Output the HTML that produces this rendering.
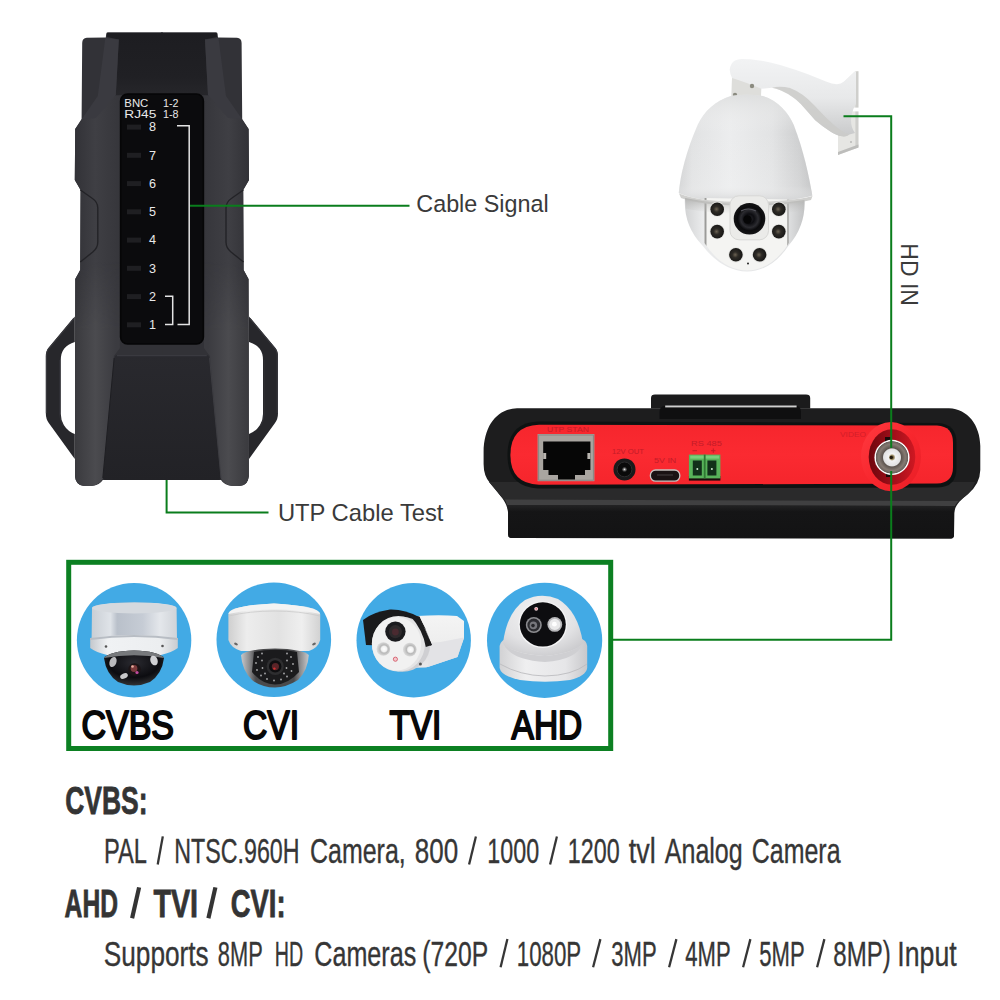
<!DOCTYPE html>
<html>
<head>
<meta charset="utf-8">
<title>CCTV Tester</title>
<style>
html,body{margin:0;padding:0;background:#fff;}
body{width:1000px;height:1000px;overflow:hidden;font-family:"Liberation Sans",sans-serif;}
svg{display:block;position:absolute;left:0;top:0;}
text{font-family:"Liberation Sans",sans-serif;}
</style>
</head>
<body>
<svg width="1000" height="1000" viewBox="0 0 1000 1000">
<defs>
<linearGradient id="gDome" x1="0" y1="0" x2="1" y2="0">
 <stop offset="0" stop-color="#cfd0d1"/>
 <stop offset="0.1" stop-color="#e1e2e3"/>
 <stop offset="0.38" stop-color="#ecedee"/>
 <stop offset="0.7" stop-color="#e2e3e4"/>
 <stop offset="0.9" stop-color="#cecfd0"/>
 <stop offset="1" stop-color="#bcbdbe"/>
</linearGradient>
<linearGradient id="gDomeV" x1="0" y1="0" x2="0" y2="1">
 <stop offset="0" stop-color="#dcdddd" stop-opacity="0.8"/>
 <stop offset="0.35" stop-color="#f2f2f2" stop-opacity="0"/>
 <stop offset="0.85" stop-color="#f6f6f6" stop-opacity="0.2"/>
 <stop offset="1" stop-color="#d0d1d2" stop-opacity="0.9"/>
</linearGradient>
<linearGradient id="gArm" x1="0" y1="0" x2="0" y2="1">
 <stop offset="0" stop-color="#f2f3f4"/>
 <stop offset="0.5" stop-color="#e8e9ea"/>
 <stop offset="1" stop-color="#c8c9ca"/>
</linearGradient>
<linearGradient id="gBall" x1="0" y1="0" x2="1" y2="0">
 <stop offset="0" stop-color="#d2d3d4"/>
 <stop offset="0.15" stop-color="#eaebec"/>
 <stop offset="0.85" stop-color="#e2e3e4"/>
 <stop offset="1" stop-color="#c2c3c4"/>
</linearGradient>
<radialGradient id="gIR" cx="0.45" cy="0.5" r="0.6">
 <stop offset="0" stop-color="#6b6253"/>
 <stop offset="0.35" stop-color="#2e2b26"/>
 <stop offset="1" stop-color="#121212"/>
</radialGradient>
<radialGradient id="gLens" cx="0.5" cy="0.5" r="0.5">
 <stop offset="0" stop-color="#2a2a30"/>
 <stop offset="0.3" stop-color="#0c0c10"/>
 <stop offset="0.55" stop-color="#2b2b30"/>
 <stop offset="0.75" stop-color="#0a0a0c"/>
 <stop offset="1" stop-color="#131315"/>
</radialGradient>
<linearGradient id="gRed" x1="0" y1="0" x2="0" y2="1">
 <stop offset="0" stop-color="#f6262d"/>
 <stop offset="0.5" stop-color="#fb2a31"/>
 <stop offset="1" stop-color="#f5252c"/>
</linearGradient>
<linearGradient id="gBase" x1="0" y1="0" x2="0" y2="1">
 <stop offset="0" stop-color="#232324"/>
 <stop offset="0.2" stop-color="#151516"/>
 <stop offset="1" stop-color="#131314"/>
</linearGradient>
<radialGradient id="gBnc" cx="0.5" cy="0.5" r="0.5">
 <stop offset="0" stop-color="#2a2010"/>
 <stop offset="0.12" stop-color="#9a8a60"/>
 <stop offset="0.2" stop-color="#f2f2f2"/>
 <stop offset="0.48" stop-color="#e2e2e2"/>
 <stop offset="0.54" stop-color="#5e5650"/>
 <stop offset="0.75" stop-color="#857a72"/>
 <stop offset="0.9" stop-color="#6a625c"/>
 <stop offset="0.94" stop-color="#ffffff"/>
 <stop offset="1" stop-color="#f0f0f0"/>
</radialGradient>
<linearGradient id="gCyl1" x1="0" y1="0" x2="1" y2="0">
 <stop offset="0" stop-color="#c9ced4"/>
 <stop offset="0.22" stop-color="#dfe3e8"/>
 <stop offset="0.3" stop-color="#b9c0ca"/>
 <stop offset="0.6" stop-color="#c6ccd5"/>
 <stop offset="0.8" stop-color="#e4e7eb"/>
 <stop offset="1" stop-color="#cfd3d8"/>
</linearGradient>
<linearGradient id="gFl1" x1="0" y1="0" x2="1" y2="0">
 <stop offset="0" stop-color="#c4c8cd"/>
 <stop offset="0.2" stop-color="#f0f2f4"/>
 <stop offset="0.8" stop-color="#eceef0"/>
 <stop offset="1" stop-color="#c8ccd0"/>
</linearGradient>
<radialGradient id="gDk1" cx="0.5" cy="0.35" r="0.7">
 <stop offset="0" stop-color="#2a2a30"/>
 <stop offset="0.6" stop-color="#0c0c10"/>
 <stop offset="1" stop-color="#3a3a3c"/>
</radialGradient>
<linearGradient id="gCyl2" x1="0" y1="0" x2="1" y2="0">
 <stop offset="0" stop-color="#cfcfcf"/>
 <stop offset="0.2" stop-color="#ededed"/>
 <stop offset="0.55" stop-color="#e2e2e2"/>
 <stop offset="0.8" stop-color="#efefef"/>
 <stop offset="1" stop-color="#d2d2d2"/>
</linearGradient>
<linearGradient id="gDk2" x1="0" y1="0" x2="1" y2="0">
 <stop offset="0" stop-color="#c9c9cb"/>
 <stop offset="0.12" stop-color="#8e8e90"/>
 <stop offset="0.22" stop-color="#4a4a4c"/>
 <stop offset="0.78" stop-color="#4a4a4c"/>
 <stop offset="0.88" stop-color="#8e8e90"/>
 <stop offset="1" stop-color="#c9c9cb"/>
</linearGradient>
<linearGradient id="gBul" x1="0" y1="0" x2="0" y2="1">
 <stop offset="0" stop-color="#f4f4f4"/>
 <stop offset="0.5" stop-color="#eeeeee"/>
 <stop offset="0.55" stop-color="#dcdcde"/>
 <stop offset="1" stop-color="#e8e8ea"/>
</linearGradient>
<radialGradient id="gLed" cx="0.55" cy="0.5" r="0.5">
 <stop offset="0" stop-color="#ffffff"/>
 <stop offset="0.4" stop-color="#f2f2f2"/>
 <stop offset="0.6" stop-color="#b8b8b8"/>
 <stop offset="1" stop-color="#d8d8d8"/>
</radialGradient>
<radialGradient id="gEye" cx="0.45" cy="0.3" r="0.8">
 <stop offset="0" stop-color="#f3f3f4"/>
 <stop offset="0.6" stop-color="#e2e2e4"/>
 <stop offset="1" stop-color="#c6c6c9"/>
</radialGradient>
<linearGradient id="gEyeBase" x1="0" y1="0" x2="1" y2="0">
 <stop offset="0" stop-color="#d2d2d4"/>
 <stop offset="0.3" stop-color="#efeff0"/>
 <stop offset="0.75" stop-color="#e6e6e8"/>
 <stop offset="1" stop-color="#c8c8cb"/>
</linearGradient>
<linearGradient id="gSideR" x1="0" y1="0" x2="1" y2="0">
 <stop offset="0" stop-color="#36363b"/>
 <stop offset="0.55" stop-color="#3f3f44"/>
 <stop offset="1" stop-color="#323237"/>
</linearGradient>
<linearGradient id="gTopFace" x1="0" y1="0" x2="0" y2="1">
 <stop offset="0" stop-color="#1d1d21"/>
 <stop offset="0.7" stop-color="#202024"/>
 <stop offset="1" stop-color="#26262a"/>
</linearGradient>
<linearGradient id="gLowPanel" x1="0" y1="0" x2="0" y2="1">
 <stop offset="0" stop-color="#29292e"/>
 <stop offset="1" stop-color="#222226"/>
</linearGradient>
<linearGradient id="gBncHole" x1="0" y1="0" x2="1" y2="0">
 <stop offset="0" stop-color="#6e060d"/>
 <stop offset="0.45" stop-color="#9a0d18"/>
 <stop offset="1" stop-color="#cf1822"/>
</linearGradient>
<linearGradient id="gBncRing" x1="0" y1="0" x2="1" y2="1">
 <stop offset="0" stop-color="#ff3a40"/>
 <stop offset="0.5" stop-color="#f8272e"/>
 <stop offset="1" stop-color="#e81e26"/>
</linearGradient>
<linearGradient id="gRimSh" x1="0" y1="0" x2="0" y2="1">
 <stop offset="0" stop-color="#a8a8a6" stop-opacity="0.75"/>
 <stop offset="1" stop-color="#c8c8c6" stop-opacity="0"/>
</linearGradient>
<linearGradient id="gSideLow" gradientUnits="userSpaceOnUse" x1="208" y1="0" x2="249" y2="0">
 <stop offset="0" stop-color="#3b3b40"/>
 <stop offset="0.5" stop-color="#4b4b4f"/>
 <stop offset="1" stop-color="#3a3a3e"/>
</linearGradient>
<linearGradient id="gSideFade" gradientUnits="userSpaceOnUse" x1="0" y1="262" x2="0" y2="330">
 <stop offset="0" stop-color="#fff" stop-opacity="0"/>
 <stop offset="1" stop-color="#fff" stop-opacity="1"/>
</linearGradient>
<mask id="mSideLow" maskUnits="userSpaceOnUse" x="0" y="0" width="1000" height="1000">
 <rect x="0" y="240" width="400" height="260" fill="url(#gSideFade)"/>
</mask>
</defs>
<rect width="1000" height="1000" fill="#ffffff"/>
<!-- tester.svg -->
<g id="tester">
 <!-- side loops -->
 <g id="loopR">
  <path d="M249,316.5 L275,347.5 Q278,351 278,356 L278,413 Q278,419 275,423 L249,459 L249,434 Q256,431.5 260,425 Q263,420 263,414 L263,360 Q263,353 259.5,348.5 Q256,344 249,342 Z" fill="#27272b"/>
  <path d="M250,318.5 L275.5,349 Q277.3,351.5 277.3,356 L277.3,413" fill="none" stroke="#38383d" stroke-width="1.2"/>
  <path d="M264.2,360 L264.2,414 Q264,421 260.5,426" fill="none" stroke="#303035" stroke-width="1"/>
 </g>
 <use href="#loopR" transform="translate(323.8,0) scale(-1,1)"/>
 <!-- body silhouette -->
 <path id="bodyhalf" d="M160.9,32.2 L216,32.2 Q217.5,32.2 217.6,34 L218,37.6 L237,37.8 Q241.5,38 241.6,43 L242.2,119 L248.6,129 L249,180 L243.2,190 L243.6,270 L248.5,279 L248.7,476 Q248.2,485 240,485.8 L232,485.8 Q224,485 221,480 L160.9,480 Z" fill="#323237"/>
 <use href="#bodyhalf" transform="translate(323.8,0) scale(-1,1)"/>
 <!-- side faces -->
 <path id="sideR" d="M224,96 L241.6,119 L248.6,129 L249,180 L243.2,190 L243.6,270 L248.5,279 L248.7,476 Q248.2,485 240,485.8 L232,485.8 Q224,485 221,478 L210,356 L204,348 L204,96 Z" fill="url(#gSideR)"/>
 <use href="#sideR" transform="translate(323.8,0) scale(-1,1)"/>
 <g id="sideLowR" mask="url(#mSideLow)"><path d="M224,262 L243.6,270 L248.5,279 L248.7,476 Q248.2,485 240,485.8 L232,485.8 Q224,485 221,478 L210,356 L204,348 L204,262 Z" fill="url(#gSideLow)"/></g>
 <use href="#sideLowR" transform="translate(323.8,0) scale(-1,1)"/>
 <!-- top face dark -->
 <path d="M107,33 L216.8,33 L217,37 L205,39.5 L208,95 L115.8,95 L118.8,39.5 L106.8,37 Z" fill="url(#gTopFace)"/>
 <!-- bevel lighter stripes beside top face -->
 <path id="bevR" d="M205,39.5 L218.5,38 L226,96 L242,119 L228,118 L208,95 Z" fill="#3a3a40"/>
 <use href="#bevR" transform="translate(323.8,0) scale(-1,1)"/>
 <!-- notch detail -->
 <path id="notchR" d="M243.4,190 L232,198 Q226,202 226,208 L226,242 Q226,248 231,252 L243.5,262" fill="none" stroke="#232327" stroke-width="1.4"/>
 <use href="#notchR" transform="translate(323.8,0) scale(-1,1)"/>
 <!-- lower centre panel -->
 <path d="M117.5,355 L206.3,355 Q209,355 209.4,358 L220.8,478 Q221,480 219,480 L104.8,480 Q102.8,480 103,478 L114.4,358 Q114.8,355 117.5,355 Z" fill="url(#gLowPanel)"/>
 <path d="M117,355.6 L206.8,355.6" stroke="#3a3a40" stroke-width="1.2"/>
 <path d="M209.6,358 L221,478" stroke="#3d3d42" stroke-width="1" fill="none"/>
 <path d="M114.2,358 L102.8,478" stroke="#1e1e22" stroke-width="1" fill="none"/>
 <!-- screen panel -->
 <rect x="120.6" y="94" width="82.8" height="250" rx="7" ry="7" fill="#0b0b0d" stroke="#060607" stroke-width="1.6"/>
 <!-- LEDs -->
 <g fill="#1f1f22">
  <rect x="127" y="124.6" width="14" height="5"/>
  <rect x="127" y="152.8" width="14" height="5"/>
  <rect x="127" y="181.1" width="14" height="5"/>
  <rect x="127" y="209.3" width="14" height="5"/>
  <rect x="127" y="237.6" width="14" height="5"/>
  <rect x="127" y="265.8" width="14" height="5"/>
  <rect x="127" y="294.1" width="14" height="5"/>
  <rect x="127" y="322.3" width="14" height="5"/>
 </g>
 <!-- panel text -->
 <g fill="#e9e9e9" font-size="10.2" >
  <text x="124.3" y="107.2" textLength="24" lengthAdjust="spacingAndGlyphs">BNC</text>
  <text x="163" y="107.2" textLength="15.5" lengthAdjust="spacingAndGlyphs">1-2</text>
  <text x="124.3" y="117.7" textLength="32" lengthAdjust="spacingAndGlyphs">RJ45</text>
  <text x="163" y="117.7" textLength="15.5" lengthAdjust="spacingAndGlyphs">1-8</text>
 </g>
 <g fill="#e9e9e9" font-size="12.6" text-anchor="middle">
  <text x="152.4" y="131.4">8</text>
  <text x="152.4" y="159.6">7</text>
  <text x="152.4" y="187.9">6</text>
  <text x="152.4" y="216.1">5</text>
  <text x="152.4" y="244.4">4</text>
  <text x="152.4" y="272.6">3</text>
  <text x="152.4" y="300.9">2</text>
  <text x="152.4" y="329.1">1</text>
 </g>
 <g fill="none" stroke="#e4e4e4" stroke-width="1.5">
  <path d="M177,125.7 L189.2,125.7 L189.2,324.5 L177.5,324.5"/>
  <path d="M165,296.2 L172.7,296.2 L172.7,324.5 L165,324.5"/>
 </g>
</g>

<!-- ptz.svg -->
<g id="ptz">
 <!-- wall plate -->
 <path d="M838,136 L838,155 L858.4,147.5 L858.4,71.2 L854.6,71.8 L840,86 Z" fill="#e6e6e3"/>
 <path d="M855.4,71.6 L858.4,71.2 L858.4,147.5 L855.4,148.6 Z" fill="#cfcfcc"/>
 <path d="M838,155 L858.4,147.5 L858.4,144.5 L838,152 Z" fill="#bdbdbb"/>
 <path d="M852.5,107.6 L859,107.6 L859,111.4 L852.5,111.4 Z" fill="#ffffff"/>
 <circle cx="851" cy="79" r="0.8" fill="#999"/><circle cx="851" cy="142" r="0.8" fill="#999"/>
 <!-- arm -->
 <path d="M729.7,69.8 Q730.5,63 735,60.5 Q738,59 741.4,59 Q750,59 759.4,60.4 Q770,62 781,65.3 Q795,69.5 808,74.3 L826,81.5 Q832,84 836.8,84.2 Q841,84 844,81.5 L854.8,71.6 L856,72 L856,104 Q851,112 851,120 Q851,128 855,133 L849.4,134.5 Q846,137 842.2,136.3 Q836,135.5 829.6,131 Q822,126 815.2,120.2 Q808,112 800.8,104 Q797,100 793.6,97.7 Q787,93 781,90.5 Q776,88.5 772,87.8 L761.2,88.7 L761,96 L731.5,96 L732,78 Q730,74 729.7,69.8 Z" fill="url(#gArm)"/>
 <path d="M772,87.8 Q776,88.5 781,90.5 Q787,93 793.6,97.7 Q797,100 800.8,104 Q808,112 815.2,120.2 Q822,126 829.6,131 Q836,135.5 842.2,136.3 Q846,137 849.4,134.5 Q842,132 834,125 Q824,116 814,105 Q803,93 790,88 Q780,85.5 772,87.8 Z" fill="#cbcbc9" opacity="0.85"/>
 <path d="M732,78 Q745,82 761.2,88.7 L761,96 L731.5,96 Z" fill="#dededb"/>
 <!-- neck screws -->
 <circle cx="752" cy="86" r="2.2" fill="#8b8b80"/>
 <circle cx="735" cy="95" r="2.2" fill="#8b8b80"/>
 <!-- upper dome -->
 <path d="M678.8,193 C680,176 686.5,150 697.6,125 C704,111 716,100.5 730.8,96 Q746.8,93.3 762.8,96 C778,100.5 788.5,113 793.8,125 C803.5,150 809,176 812.3,195.5 Q790,202 746,202 Q700,202 678.8,193 Z" fill="url(#gDome)"/>
 <path d="M678.8,193 C680,176 686.5,150 697.6,125 C704,111 716,100.5 730.8,96 Q746.8,93.3 762.8,96 C778,100.5 788.5,113 793.8,125 C803.5,150 809,176 812.3,195.5 Q790,202 746,202 Q700,202 678.8,193 Z" fill="url(#gDomeV)"/>
 <!-- lower ball -->
 <path d="M685,197 Q683,225 702,245 Q722,271 747,271.5 Q772,271 789,245 Q806,225 804.5,199 Q770,203 746,203 Q715,203 685,197 Z" fill="url(#gBall)"/>
 <!-- face plate -->
 <path d="M704.5,198 L789,199.5 L789,243 Q772,270 747,270.5 Q722,270 704.5,243 Z" fill="#f4f4f2"/>
 <path d="M704.5,198 L706.5,198 L706.5,246 L704.5,243 Z" fill="#9b9b99"/>
 <path d="M787,199.5 L789,199.5 L789,243 L787,246 Z" fill="#b5b5b3"/>
 <!-- rim shadow -->
 <path d="M679,193.5 Q700,202 746,202 Q790,202 812.5,196 L811,200 Q790,205.5 746,205.5 Q700,205.5 681,198 Z" fill="#d0d0ce"/>
 <path d="M685,198 Q715,204 746,204 Q780,204 804.5,200 L804,211 Q780,214 746,214 Q715,214 686,209 Z" fill="url(#gRimSh)"/>
 <!-- lens housing -->
 <rect x="730" y="195.8" width="38.5" height="44" rx="9" fill="#ebebe9" stroke="#d8d8d6" stroke-width="1"/>
 <circle cx="749.5" cy="218.8" r="15.8" fill="url(#gLens)"/>
 <circle cx="747.5" cy="219.5" r="4.2" fill="#050506"/>
 <path d="M741,211 Q748,207 756,211" stroke="#55555c" stroke-width="1.2" fill="none"/>
 <!-- IR leds -->
 <g>
  <circle cx="717.2" cy="209.2" r="7.6" fill="#e2e2df"/><circle cx="717.2" cy="209.2" r="6.8" fill="url(#gIR)"/>
  <circle cx="717.2" cy="231.6" r="7.6" fill="#e2e2df"/><circle cx="717.2" cy="231.6" r="6.8" fill="url(#gIR)"/>
  <circle cx="778.8" cy="209.2" r="7.6" fill="#e2e2df"/><circle cx="778.8" cy="209.2" r="6.8" fill="url(#gIR)"/>
  <circle cx="778.8" cy="231.6" r="7.6" fill="#e2e2df"/><circle cx="778.8" cy="231.6" r="6.8" fill="url(#gIR)"/>
  <circle cx="735.9" cy="254.8" r="7.6" fill="#e2e2df"/><circle cx="735.9" cy="254.8" r="6.8" fill="url(#gIR)"/>
  <circle cx="759.6" cy="254.8" r="7.6" fill="#e2e2df"/><circle cx="759.6" cy="254.8" r="6.8" fill="url(#gIR)"/>
 </g>
 <circle cx="748" cy="263.6" r="1" fill="#222"/>
</g>

<!-- reddev.svg -->
<g id="reddev">
 <!-- handle -->
 <path d="M651,408.5 L651,398 Q651,394.6 655,394.6 L806,394.6 Q810.2,394.6 810.2,398 L810.2,408.5 Z" fill="#1b1b1c"/>
 
 <!-- body -->
 <path d="M517,408.2 L949,408.2 C968,409 980,425 980.3,446 L980.3,470 Q980,484 968,494 C960,500.5 955,505 954.2,513 L954,535.3 Q954,538.4 951,538.4 L511.5,538 Q508.1,538 508.1,534.6 L508.1,513 C507.5,504 503,499 497,491.5 L490,483 Q483.6,476 483.6,464 L483.6,452 C484,425 497,409 517,408.2 Z" fill="#1d1d1e"/>
 <path d="M664,406 L797,406 Q801,407 801,412 L801,419 L659.5,419 L659.5,412 Q659.5,407 664,406 Z" fill="#0f0f10"/>
 <rect x="665.2" y="405.5" width="131.4" height="1.9" fill="#cfcfcf"/>
 <!-- lower body band / base shading -->
 <path d="M489,482 L975,482 Q972,490 968,494 C964,497.5 960,500 958,502 L504.6,500.6 C502,497 499,494 497,491.5 Z" fill="#2a2a2b"/>
 <path d="M504.6,499.6 L958.6,501 C957,503 955.5,504.5 955,506 L507,505 C506.5,503 505.8,501.4 504.6,499.6 Z" fill="#404041"/>
 <path d="M507,505 L955,506 C954.5,508 954.2,510 954.2,513 L954,535.3 Q954,538.4 951,538.4 L511.5,538 Q508.1,538 508.1,534.6 L508.1,513 C508,510 507.6,507 507,505 Z" fill="url(#gBase)"/>
 <!-- bezel -->
 <path d="M538,421.5 L938,423 Q956.5,424 956.5,443 L956.5,468 Q956.5,487 938,487.5 L538,488.5 Q507.5,487 507.5,455 Q507.5,423 538,421.5 Z" fill="#0e1212"/>
 <!-- red panel -->
 <path d="M539,424.8 L937,425.6 Q953,426.5 953,443 L953,467 Q953,483 937,483.6 L539,484.8 Q510.4,483.6 510.4,455 Q510.4,426 539,424.8 Z" fill="url(#gRed)"/>
 <!-- BNC red bulge -->
 <ellipse cx="891" cy="456.6" rx="30" ry="34.6" fill="url(#gBncRing)"/>
 <ellipse cx="892" cy="457" rx="23.3" ry="27.8" fill="url(#gBncHole)"/>
 
 <rect x="885" y="437" width="6" height="5" fill="#1a0a0a"/>
 <rect x="886" y="472" width="6" height="5" fill="#1a0a0a"/>
 <circle cx="892" cy="457.4" r="17.6" fill="url(#gBnc)"/>
 <circle cx="891.2" cy="457.4" r="1.6" fill="#20180c"/>
 <!-- VIDEO label -->
 <text x="840" y="437" font-size="7.6" fill="#d41e29" textLength="26" lengthAdjust="spacingAndGlyphs">VIDEO</text>
 <!-- RJ45 -->
 <rect x="537.6" y="434" width="56.8" height="47.2" fill="#a9a5a0"/>
 <rect x="538.6" y="435" width="54.8" height="45.2" fill="none" stroke="#8a8682" stroke-width="1"/>
 <path d="M543.2,441.5 L590.4,441.5 L590.4,470 L585,470 L585,475 L575,475 L575,479.6 L558,479.6 L558,475 L548.5,475 L548.5,470 L543.2,470 Z" fill="#060606"/>
 <rect x="543.2" y="453" width="3" height="6" fill="#b9b5b0"/>
 <rect x="587.4" y="453" width="3" height="6" fill="#b9b5b0"/>
 <text x="547" y="432.2" font-size="6.6" fill="#c41c28" textLength="42" lengthAdjust="spacingAndGlyphs">UTP STAN</text>
 <!-- 12V jack -->
 <circle cx="624.5" cy="469.4" r="11" fill="#1a1a1b"/>
 <circle cx="624.5" cy="469.4" r="7.4" fill="#0a0a0a" stroke="#2d2d2e" stroke-width="1"/>
 <circle cx="624.5" cy="469.4" r="2.2" fill="#5a5a5a"/>
 <circle cx="624.5" cy="469.4" r="0.9" fill="#e8e8e8"/>
 <text x="612" y="454.2" font-size="6.4" fill="#c41c28" textLength="32" lengthAdjust="spacingAndGlyphs">12V OUT</text>
 <!-- micro usb -->
 <rect x="650.4" y="470" width="29.4" height="11.2" rx="5.2" fill="#1a1213" stroke="#c9c2c0" stroke-width="1.3"/>
 <rect x="657" y="474.3" width="16" height="1.4" fill="#3a3234"/>
 <text x="654" y="463.2" font-size="6.4" fill="#c41c28" textLength="22.3" lengthAdjust="spacingAndGlyphs">5V IN</text>
 <!-- green terminal -->
 <rect x="688.9" y="476" width="31.5" height="4.6" fill="#1a0c0c"/>
 <rect x="688.9" y="454.6" width="31.5" height="23.8" fill="#58b35a"/>
 <rect x="690.2" y="455.6" width="29" height="3" fill="#8fe08f" opacity="0.6"/>
 <rect x="692.8" y="460.5" width="9" height="15" fill="#12301a"/>
 <rect x="707.4" y="460.5" width="9" height="15" fill="#12301a"/>
 <rect x="703.8" y="454.6" width="1.8" height="23.8" fill="#2f7a34"/>
 <circle cx="697.3" cy="469" r="1" fill="#cfe8cf"/>
 <circle cx="711.9" cy="469" r="1" fill="#cfe8cf"/>
 <text x="691" y="445.6" font-size="6.6" fill="#c41c28" textLength="30.8" lengthAdjust="spacingAndGlyphs">RS 485</text>
 <rect x="692.5" y="450.2" width="4.5" height="1" fill="#c41c28"/>
 <rect x="711" y="450.2" width="4.5" height="1" fill="#c41c28"/>
 <rect x="712.8" y="448.4" width="1" height="4.5" fill="#c41c28"/>
</g>

<!-- box.svg -->
<rect x="68.7" y="562.3" width="542" height="186.2" fill="#fff" stroke="#0c8022" stroke-width="5"/>
<g fill="#42aae5">
 <circle cx="134.1" cy="640.2" r="57.2"/>
 <circle cx="273.8" cy="639.8" r="57.3"/>
 <circle cx="413.7" cy="640.2" r="57.2"/>
 <circle cx="544.6" cy="640.3" r="57.6"/>
</g>
<!-- cam1: CVBS dome -->
<g id="cam1">
 <path d="M92,608 A42.3,5.6 0 0 1 176.6,608 L177,640 L91.6,640 Z" fill="url(#gCyl1)"/>
 <ellipse cx="134.3" cy="608" rx="42.3" ry="5.4" fill="#d5d9de"/>
 <path d="M90.2,638 Q134,632 177.8,638 L177.8,648 Q166,657 134,657.5 Q102,657 90.2,648 Z" fill="url(#gFl1)"/>
 <path d="M90.2,638 Q134,632 177.8,638 L177.8,640 Q134,634 90.2,640 Z" fill="#b8bdc4"/>
 <circle cx="106" cy="646.5" r="1.3" fill="#555"/>
 <circle cx="162.5" cy="646" r="1.3" fill="#555"/>
 <path d="M104,658 Q110,651 134,650.5 Q158,651 164,658 Q162,674 150,682 Q134,689 118,682 Q106,674 104,658 Z" fill="url(#gDk1)"/>
 <path d="M104,658 Q110,651 134,650.5 Q158,651 164,658 Q134,652.5 104,658 Z" fill="#77797c"/>
 <ellipse cx="113" cy="662" rx="3.4" ry="5.2" fill="#d8d8da" opacity="0.85" transform="rotate(20 113 662)"/>
 <ellipse cx="154" cy="660.5" rx="3.6" ry="5" fill="#e6e6e8" opacity="0.9" transform="rotate(-20 154 660.5)"/>
 <ellipse cx="124" cy="676" rx="4" ry="2.6" fill="#dcdcde" opacity="0.9" transform="rotate(-25 124 676)"/>
 <circle cx="134.5" cy="669.5" r="6.2" fill="#1c1416"/>
 <circle cx="134" cy="668.5" r="3.4" fill="#7a3a3c"/>
 <circle cx="137" cy="672.5" r="1.6" fill="#c24aa0"/>
 <circle cx="132.5" cy="666.5" r="1.3" fill="#e8b0a0"/>
</g>
<!-- cam2: CVI dome -->
<g id="cam2">
 <path d="M228.4,614 Q229,606 274,603.4 Q319.5,606 320.2,614 L320.2,640 Q318,648 309,651 L241,651 Q231,648 228.4,640 Z" fill="url(#gCyl2)"/>
 <path d="M228.4,614 Q229,606 274,603.4 Q319.5,606 320.2,614 Q300,609.5 274,609.5 Q248,609.5 228.4,614 Z" fill="#f3f3f3"/>
 <path d="M228.6,616 Q250,611 274,611 Q300,611 320,616" stroke="#cacaca" stroke-width="0.8" fill="none"/>
 <ellipse cx="236" cy="644" rx="2" ry="1.2" fill="#666" transform="rotate(25 236 644)"/>
 <ellipse cx="314" cy="644" rx="2" ry="1.2" fill="#666" transform="rotate(-25 314 644)"/>
 <path d="M241,655 Q248,649 275,648.5 Q302,649 308.8,655 Q308,670 298,680 Q286,687.5 275,687.5 Q262,687.5 252,680 Q242,670 241,655 Z" fill="url(#gDk2)"/>
 <path d="M254,652 Q275,647.5 297,652 L299,672 Q288,684.5 275,684.5 Q262,684.5 252,672 Z" fill="#1b1b1d"/>
 <g fill="#a9a9ab">
  <circle cx="258" cy="657" r="0.9"/><circle cx="262" cy="653.5" r="0.9"/><circle cx="256" cy="663" r="0.9"/><circle cx="257" cy="670" r="0.9"/><circle cx="261" cy="675.5" r="0.9"/><circle cx="267" cy="679" r="0.9"/><circle cx="274" cy="680.5" r="0.9"/><circle cx="281" cy="679.5" r="0.9"/><circle cx="287" cy="676.5" r="0.9"/><circle cx="291.5" cy="671" r="0.9"/><circle cx="293" cy="664" r="0.9"/><circle cx="291" cy="657" r="0.9"/><circle cx="287" cy="653.5" r="0.9"/><circle cx="262.5" cy="668" r="0.9"/><circle cx="265" cy="673.5" r="0.9"/><circle cx="286.5" cy="668" r="0.9"/><circle cx="284" cy="673.5" r="0.9"/><circle cx="262" cy="660.5" r="0.9"/><circle cx="287" cy="660.5" r="0.9"/>
 </g>
 <circle cx="275.2" cy="666.4" r="8.6" fill="#2e2e30"/>
 <circle cx="275.2" cy="666.4" r="6.2" fill="#0e0e10"/>
 <circle cx="275.4" cy="666.6" r="3.6" fill="#5a2428"/>
 <circle cx="274.4" cy="668.6" r="1.2" fill="#d03030"/>
</g>
<!-- cam3: TVI bullet -->
<g id="cam3">
 <path d="M417,616 Q440,614.5 457,616 L464,621 L464,638 L457.5,657 L426,667.5 L405,668 L405,640 Z" fill="url(#gBul)"/>
 <path d="M430,644 L464,637.5 L457.5,657 L428,667 Z" fill="#e3e3e6"/>
 <path d="M363,620 Q372,612 390,609.4 Q405,609 419,617 L425,628 L431.5,645 L426,647 L366,645 Z" fill="#1a1a1c"/>
 <path d="M419,617 L425,628 L431.5,645 L428,646 L420,630 L415,619 Z" fill="#3a3a3c"/>
 <ellipse cx="402.5" cy="644.4" rx="27.6" ry="27.4" fill="#cfcfd2"/>
 <ellipse cx="398.4" cy="643.8" rx="26.6" ry="27.8" fill="#e4e4e5"/>
 <path d="M410,615.5 L419.5,616.5 L432,645 L425.8,647 Q423,630 410,615.5 Z" fill="#1c1c1e"/>
 <ellipse cx="396.6" cy="643.8" rx="24.6" ry="26.8" fill="#f1f1f1"/>
 <circle cx="395.4" cy="631.6" r="10.2" fill="#1b1b1e"/>
 <circle cx="395.4" cy="631.6" r="6.6" fill="#2e2a2c"/>
 <circle cx="395.4" cy="632" r="3.4" fill="#4a2a30"/>
 <circle cx="383.4" cy="649" r="6.8" fill="url(#gLed)"/>
 <circle cx="409.8" cy="649.6" r="6.8" fill="url(#gLed)"/>
 <circle cx="395.4" cy="659.2" r="2.1" fill="#f4c6cc" stroke="#d05060" stroke-width="0.8"/>
 <circle cx="420.4" cy="664" r="1.5" fill="#555"/>
</g>
<!-- cam4: AHD eyeball -->
<g id="cam4">
 <path d="M499.6,646 Q500,640 512,636 L576,636 Q587,640 587.2,646 L587.2,668 Q586,676 570,680 Q545,683.5 520,680 Q501,676 499.6,668 Z" fill="url(#gEyeBase)"/>
 <path d="M500,664 Q520,675.5 545,676 Q572,675.5 587,664" stroke="#bcbcc0" stroke-width="0.9" fill="none"/>
 <path d="M503,643 Q507,612 525,600 Q541,592 558,599 Q578,611 583,643 Q575,653 545,656 Q512,654 503,643 Z" fill="url(#gEye)"/>
 <path d="M503,643 Q512,654 545,656 Q575,653 583,643 Q577,660 545,662 Q510,660 503,643 Z" fill="#cfcfd2"/>
 <ellipse cx="542.8" cy="624.6" rx="24.4" ry="23.4" fill="#f4f4f5"/>
 <ellipse cx="542.8" cy="624.4" rx="23" ry="22.2" fill="#0d0d10"/>
 <circle cx="533.8" cy="625" r="8" fill="#8c8c90"/>
 <circle cx="533.8" cy="625" r="6.4" fill="#2c2c30"/>
 <circle cx="533.4" cy="625.4" r="3.8" fill="#77777c"/>
 <circle cx="533" cy="625.6" r="1.8" fill="#26262a"/>
 <circle cx="554.8" cy="624.4" r="7.4" fill="#b9b9bc"/>
 <circle cx="554.8" cy="624.4" r="5.6" fill="#e9e9ea"/>
 <circle cx="554.4" cy="624.2" r="2.4" fill="#ffffff"/>
 <circle cx="536.2" cy="608.8" r="1.9" fill="#f6d6da"/>
 <circle cx="536.2" cy="608.8" r="0.9" fill="#e07080"/>
</g>
<g fill="#080808" stroke="#080808" stroke-width="2" stroke-linejoin="round" font-size="40">
 <text x="81.6" y="739" textLength="92.4" lengthAdjust="spacingAndGlyphs">CVBS</text>
 <text x="243" y="739" textLength="56" lengthAdjust="spacingAndGlyphs">CVI</text>
 <text x="389.4" y="739" textLength="52" lengthAdjust="spacingAndGlyphs">TVI</text>
 <text x="511.6" y="739" textLength="70.6" lengthAdjust="spacingAndGlyphs">AHD</text>
</g>

<!-- lines.svg -->
<g fill="none" stroke="#0a7d1c" stroke-width="2">
 <path d="M190,205.8 L409.5,205.8"/>
 <path d="M166.6,480 L166.6,512.6 L268.5,512.6"/>
 <path d="M843.5,116.3 L891.2,116.3 L891.2,448"/>
 <path d="M891.2,471 L891.2,639.7 L612,639.7"/>
</g>

<!-- text.svg -->
<g fill="#3a3a3a" font-size="23.35">
 <text x="416.3" y="212.3">Cable Signal</text>
 <text x="277.9" y="521.4" font-size="23.6" textLength="165.6" lengthAdjust="spacingAndGlyphs">UTP Cable Test</text>
 <text transform="translate(900.6,243.3) rotate(90)" font-size="24" textLength="62.6" lengthAdjust="spacingAndGlyphs">HD IN</text>
</g>
<g fill="#343434" stroke="#343434" stroke-width="0.8" font-weight="bold">
 <text x="65.2" y="813.8" font-size="39" textLength="82.4" lengthAdjust="spacingAndGlyphs">CVBS:</text>
 <text x="64.6" y="916.8" font-size="39" textLength="53.4" lengthAdjust="spacingAndGlyphs">AHD</text>
 <line x1="132.1" y1="918.3" x2="139.1" y2="887.4" stroke-width="4.2" stroke-linecap="butt"/>
 <text x="153.4" y="916.8" font-size="39" textLength="44.6" lengthAdjust="spacingAndGlyphs">TVI</text>
 <line x1="208.4" y1="918.3" x2="215.4" y2="887.4" stroke-width="4.2" stroke-linecap="butt"/>
 <text x="230.8" y="916.8" font-size="39" textLength="54.8" lengthAdjust="spacingAndGlyphs">CVI:</text>
</g>
<g fill="#363636" stroke="#363636" stroke-width="0.35">
 <text x="103.9" y="863" font-size="35" textLength="43.0" lengthAdjust="spacingAndGlyphs">PAL</text>
 <line x1="157.7" y1="864.5" x2="162.8" y2="836.4" stroke-width="2.3" stroke-linecap="butt"/>
 <text x="174.3" y="863" font-size="35" textLength="125.2" lengthAdjust="spacingAndGlyphs">NTSC.960H</text>
 <text x="310.0" y="863" font-size="35" textLength="95.7" lengthAdjust="spacingAndGlyphs">Camera,</text>
 <text x="414.8" y="863" font-size="35" textLength="43.4" lengthAdjust="spacingAndGlyphs">800</text>
 <line x1="469.1" y1="864.5" x2="475.9" y2="836.4" stroke-width="2.3" stroke-linecap="butt"/>
 <text x="487.3" y="863" font-size="35" textLength="51.9" lengthAdjust="spacingAndGlyphs">1000</text>
 <line x1="550.1" y1="864.5" x2="556.9" y2="836.4" stroke-width="2.3" stroke-linecap="butt"/>
 <text x="567.8" y="863" font-size="35" textLength="51.9" lengthAdjust="spacingAndGlyphs">1200</text>
 <text x="628.8" y="863" font-size="35" textLength="26.9" lengthAdjust="spacingAndGlyphs">tvl</text>
 <text x="664.8" y="863" font-size="35" textLength="77.9" lengthAdjust="spacingAndGlyphs">Analog</text>
 <text x="751.8" y="863" font-size="35" textLength="88.7" lengthAdjust="spacingAndGlyphs">Camera</text>
 <text x="103.8" y="965.7" font-size="35" textLength="104.9" lengthAdjust="spacingAndGlyphs">Supports</text>
 <text x="217.8" y="965.7" font-size="35" textLength="44.9" lengthAdjust="spacingAndGlyphs">8MP</text>
 <text x="274.8" y="965.7" font-size="35" textLength="28.4" lengthAdjust="spacingAndGlyphs">HD</text>
 <text x="314.3" y="965.7" font-size="35" textLength="101.9" lengthAdjust="spacingAndGlyphs">Cameras</text>
 <text x="422.3" y="965.7" font-size="35" textLength="65.9" lengthAdjust="spacingAndGlyphs">(720P</text>
 <line x1="500.6" y1="967.2" x2="507.4" y2="939.1" stroke-width="2.3" stroke-linecap="butt"/>
 <text x="516.8" y="965.7" font-size="35" textLength="64.4" lengthAdjust="spacingAndGlyphs">1080P</text>
 <line x1="593.1" y1="967.2" x2="600.4" y2="939.1" stroke-width="2.3" stroke-linecap="butt"/>
 <text x="611.3" y="965.7" font-size="35" textLength="45.4" lengthAdjust="spacingAndGlyphs">3MP</text>
 <line x1="669.1" y1="967.2" x2="676.4" y2="939.1" stroke-width="2.3" stroke-linecap="butt"/>
 <text x="685.3" y="965.7" font-size="35" textLength="45.4" lengthAdjust="spacingAndGlyphs">4MP</text>
 <line x1="743.1" y1="967.2" x2="750.4" y2="939.1" stroke-width="2.3" stroke-linecap="butt"/>
 <text x="759.3" y="965.7" font-size="35" textLength="45.4" lengthAdjust="spacingAndGlyphs">5MP</text>
 <line x1="817.1" y1="967.2" x2="824.4" y2="939.1" stroke-width="2.3" stroke-linecap="butt"/>
 <text x="833.3" y="965.7" font-size="35" textLength="57.4" lengthAdjust="spacingAndGlyphs">8MP)</text>
 <text x="897.3" y="965.7" font-size="35" textLength="59.4" lengthAdjust="spacingAndGlyphs">Input</text>
</g>

</svg>
</body>
</html>
